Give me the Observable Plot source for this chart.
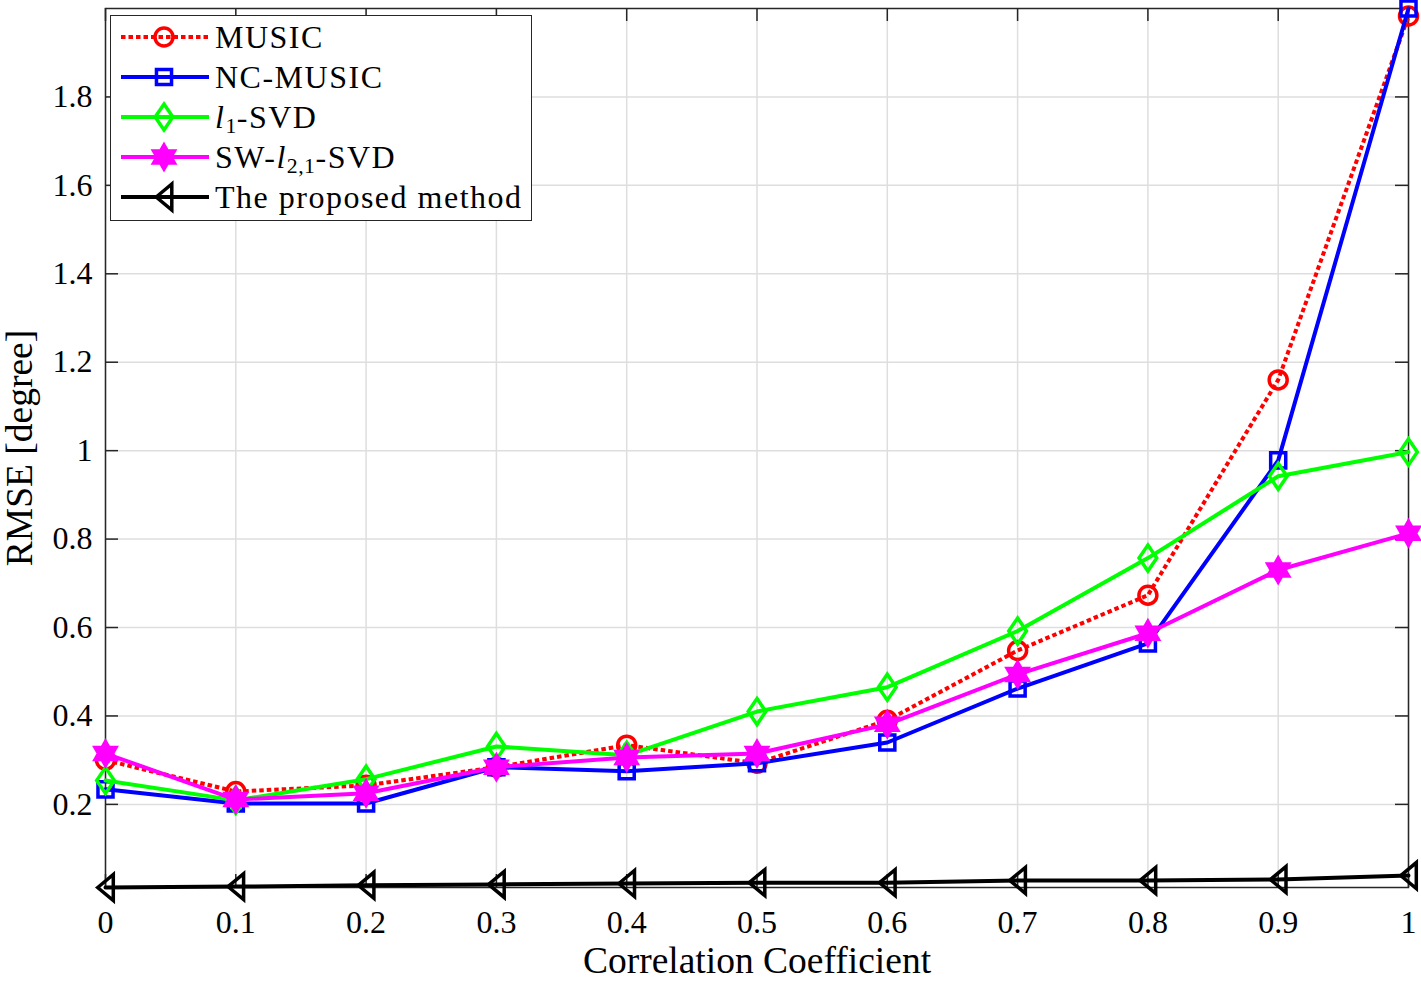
<!DOCTYPE html>
<html><head><meta charset="utf-8">
<script src="https://cdn.jsdelivr.net/npm/d3@7"></script>
<script src="https://cdn.jsdelivr.net/npm/@observablehq/plot@0.6"></script>
<style>
body{margin:0;background:#fff;}
#wrap{position:relative;width:1421px;height:982px;font-family:"Liberation Serif",serif;}
#legend{position:absolute;left:110px;top:15px;width:420px;height:204px;border:1.5px solid #262626;background:#fff;box-sizing:content-box;}
.row{position:absolute;left:0;height:40px;display:flex;align-items:center;font-size:32px;letter-spacing:1.5px;color:#000;white-space:nowrap;}
.row svg{display:block;margin-right:6px;}
sub{font-size:0.68em;vertical-align:-0.25em;line-height:0;letter-spacing:0.5px;}
</style></head><body><div id="wrap"></div>
<script>
// ---- data ----
const corr = [0, 0.1, 0.2, 0.3, 0.4, 0.5, 0.6, 0.7, 0.8, 0.9, 1];
const music    = [0.300, 0.229, 0.243, 0.284, 0.334, 0.293, 0.390, 0.548, 0.673, 1.160, 1.983];
const ncMusic  = [0.234, 0.202, 0.202, 0.284, 0.275, 0.293, 0.340, 0.462, 0.564, 0.978, 2.000];
const l1svd    = [0.254, 0.209, 0.257, 0.331, 0.311, 0.410, 0.465, 0.592, 0.757, 0.942, 0.997];
const swl21    = [0.315, 0.211, 0.225, 0.284, 0.306, 0.315, 0.381, 0.494, 0.587, 0.730, 0.813];
const proposed = [0.012, 0.014, 0.017, 0.019, 0.021, 0.023, 0.023, 0.028, 0.028, 0.030, 0.039];
const xTicks = [0, 0.1, 0.2, 0.3, 0.4, 0.5, 0.6, 0.7, 0.8, 0.9, 1];
const yTicks = [0.2, 0.4, 0.6, 0.8, 1, 1.2, 1.4, 1.6, 1.8];
const seriesNames = ["MUSIC", "NC-MUSIC", "l1-SVD", "SW-l21-SVD", "The proposed method"];
const legendHTML = ["MUSIC", "NC-MUSIC", "<i>l</i><sub>1</sub>-SVD", "SW-<i>l</i><sub>2,1</sub>-SVD", "The proposed method"];

// ---- symbols ----
const leftTri = {draw(c, s){const r=Math.sqrt(s/Math.PI); c.moveTo(-0.6*r,0); c.lineTo(0.6*r,-r); c.lineTo(0.6*r,r); c.closePath();}};
const tallDiamond = {draw(c, s){const r=Math.sqrt(s/Math.PI); c.moveTo(0,-r); c.lineTo(0.68*r,0); c.lineTo(0,r); c.lineTo(-0.68*r,0); c.closePath();}};
const hexagram = {draw(c, s){const R=Math.sqrt(s/Math.PI), ri=R/Math.sqrt(3);
  for(let i=0;i<12;i++){const a=-Math.PI/2+i*Math.PI/6, rr=i%2?ri:R; const px=rr*Math.cos(a), py=rr*Math.sin(a); i?c.lineTo(px,py):c.moveTo(px,py);} c.closePath();}};

const styles = [
  {values: music,    stroke:"#ff0000", dash:"4.5,3", symbol:d3.symbolCircle, r:9,  fill:"none"},
  {values: ncMusic,  stroke:"#0000ff", dash:null,    symbol:d3.symbolSquare, r:8.5, fill:"none"},
  {values: l1svd,    stroke:"#00ff00", dash:null,    symbol:tallDiamond,     r:13, fill:"none"},
  {values: swl21,    stroke:"#ff00ff", dash:null,    symbol:hexagram,        r:12, fill:"#ff00ff"},
  {values: proposed, stroke:"#000000", dash:null,    symbol:leftTri,         r:13, fill:"none"}
];

const W=1421, H=982, mL=105, mR=13, mT=8, mB=95;
const plotW=W-mL-mR, plotH=H-mT-mB;
const allVals = styles.flatMap(s=>s.values);
const frameColor = "#262626";

const marks = [
  Plot.gridX(xTicks, {stroke:"#dedede", strokeOpacity:1, strokeWidth:1.5}),
  Plot.gridY(yTicks, {stroke:"#dedede", strokeOpacity:1, strokeWidth:1.5}),
  Plot.tickX(xTicks, {x:d=>d, stroke:frameColor, strokeWidth:1.5, insetTop:plotH-13}),
  Plot.tickX(xTicks, {x:d=>d, stroke:frameColor, strokeWidth:1.5, insetBottom:plotH-13}),
  Plot.tickY(yTicks, {y:d=>d, stroke:frameColor, strokeWidth:1.5, insetRight:plotW-13}),
  Plot.tickY(yTicks, {y:d=>d, stroke:frameColor, strokeWidth:1.5, insetLeft:plotW-13}),
  Plot.frame({stroke:frameColor, strokeWidth:1.5}),
  Plot.axisX(xTicks, {tickSize:0, tickPadding:23, tickFormat:"~g", fontSize:32, label:null}),
  Plot.axisY(yTicks, {tickSize:0, tickPadding:13, tickFormat:"~g", fontSize:32, label:null}),
  Plot.axisX(xTicks, {tickSize:0, tickFormat:()=>"", fontSize:37.5, label:"Correlation Coefficient", labelAnchor:"center", labelOffset:85, labelArrow:"none"}),
  Plot.axisY(yTicks, {tickSize:0, tickFormat:()=>"", fontSize:37.5, label:"RMSE [degree]", labelAnchor:"center", labelOffset:100, labelArrow:"none"})
];
styles.forEach((s, i) => {
  const data = corr.map((c, j) => ({x:c, y:s.values[j], series:seriesNames[i]}));
  marks.push(Plot.line(data, {x:"x", y:"y", stroke:s.stroke, strokeWidth:4, strokeDasharray:s.dash, strokeLinecap:s.dash?"butt":"round", strokeLinejoin:"round"}));
  marks.push(Plot.dot(data, {x:"x", y:"y", symbol:()=>s.symbol, r:s.r, stroke:s.stroke, fill:s.fill, strokeWidth:3.5}));
});

const chart = Plot.plot({
  width:W, height:H, marginLeft:mL, marginRight:mR, marginTop:mT, marginBottom:mB,
  style:{fontFamily:"Liberation Serif, serif", fontSize:"32px", color:"#000", background:"#fff"},
  x:{domain:[0,1]},
  y:{domain:d3.extent(allVals)},
  symbol:{type:"identity"},
  marks
});
const wrap = document.getElementById("wrap");
wrap.appendChild(chart);

// ---- legend ----
const legend = document.createElement("div");
legend.id = "legend";
styles.forEach((s, i) => {
  const row = document.createElement("div");
  row.className = "row";
  row.style.top = (1 + i*40) + "px";
  const svg = d3.create("svg").attr("width", 98).attr("height", 40);
  svg.append("line").attr("x1",10).attr("x2",98).attr("y1",20).attr("y2",20)
    .attr("stroke", s.stroke).attr("stroke-width",4).attr("stroke-dasharray", s.dash);
  svg.append("path").attr("transform","translate(53,20)")
    .attr("d", d3.symbol(s.symbol, Math.PI*s.r*s.r)())
    .attr("stroke", s.stroke).attr("stroke-width",3.5).attr("fill", s.fill==="none"?"none":s.fill);
  row.appendChild(svg.node());
  const t = document.createElement("span");
  t.innerHTML = legendHTML[i];
  row.appendChild(t);
  legend.appendChild(row);
});
wrap.appendChild(legend);
</script>
</body></html>
